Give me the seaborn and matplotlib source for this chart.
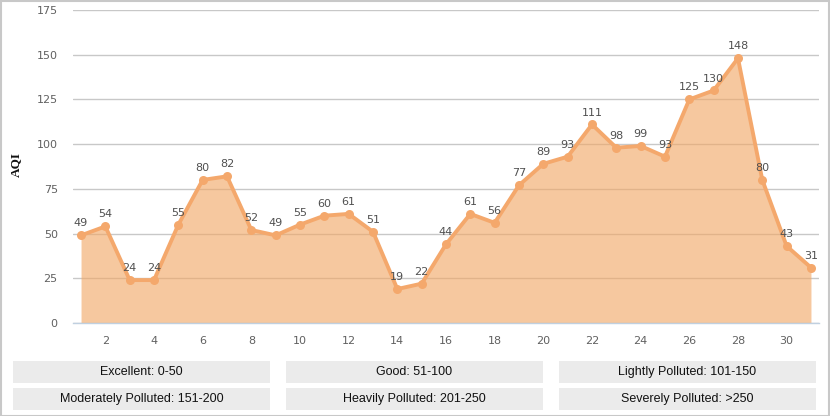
import matplotlib
matplotlib.use("Agg")
import matplotlib.pyplot as plt
import seaborn as sns
import pandas as pd
from matplotlib.patches import Rectangle

days = list(range(1, 32))
aqi = [49, 54, 24, 24, 55, 80, 82, 52, 49, 55, 60, 61, 51, 19, 22, 44,
       61, 56, 77, 89, 93, 111, 98, 99, 93, 125, 130, 148, 80, 43, 31]
yticks = [0, 25, 50, 75, 100, 125, 150, 175]
xticks = list(range(2, 32, 2))
levels = ["Excellent: 0-50", "Good: 51-100", "Lightly Polluted: 101-150",
          "Moderately Polluted: 151-200", "Heavily Polluted: 201-250",
          "Severely Polluted: >250"]

df = pd.DataFrame({"day": days, "aqi": aqi})

sns.set_style("white")
plt.rcParams["font.family"] = ["DejaVu Sans"]

fig = plt.figure(figsize=(8.3, 4.16), dpi=100)
ax = fig.add_axes([73 / 830, 1 - 323 / 416, 746 / 830, 313 / 416])

line_c = "#F4A86C"
ax.yaxis.grid(True, color="#C8C8C8", lw=1, zorder=0)
ax.set_axisbelow(True)
ax.fill_between(df["day"], df["aqi"], 0, color="#F2A765", alpha=0.62,
                lw=0, zorder=1)
sns.lineplot(data=df, x="day", y="aqi", ax=ax, color=line_c, lw=2.8,
             marker="o", markersize=6.5, markeredgewidth=0, zorder=3)

for d, v in zip(days, aqi):
    ax.annotate(str(v), (d, v), xytext=(0, 5), textcoords="offset points",
                ha="center", va="bottom", fontsize=8, color="#505050", zorder=4)

ax.set_xlim(0.67, 31.33)
ax.set_ylim(0, 175)
ax.set_yticks(yticks)
ax.set_xticks(xticks)
for s in ["top", "right", "left"]:
    ax.spines[s].set_visible(False)
ax.spines["bottom"].set_color("#C0D0E0")
ax.spines["bottom"].set_linewidth(1)
ax.spines["bottom"].set_zorder(5)
ax.tick_params(axis="y", length=0, pad=11, labelsize=8, labelcolor="#606060")
ax.tick_params(axis="x", length=5, width=1, color="#C0D0E0", pad=4,
               labelsize=8, labelcolor="#606060")
ax.set_xlabel("")
ax.set_ylabel("AQI", fontsize=9.5, color="#111111", fontweight="bold",
              family=["Liberation Serif"])
ax.yaxis.set_label_coords(-0.068, 0.505)

# level legend boxes
W, H = 830, 416
cols = [13, 286, 559]
rows = [361, 388]
bw, bh = 257, 22
for i, lab in enumerate(levels):
    x0 = cols[i % 3]
    y0 = rows[i // 3]
    fig.patches.append(Rectangle((x0 / W, 1 - (y0 + bh) / H), bw / W, bh / H,
                                 transform=fig.transFigure, color="#EBEBEB",
                                 lw=0))
    fig.text((x0 + bw / 2) / W, 1 - (y0 + bh / 2) / H, lab, ha="center",
             va="center", fontsize=9, color="#111111",
             family=["Liberation Sans"])

# outer border
fig.patches.append(Rectangle((0.5 / W, 0.5 / H), 1 - 1.5 / W, 1 - 1.5 / H,
                             transform=fig.transFigure, fill=False,
                             edgecolor="#C8C8C8", lw=1.5))

fig.savefig("out.png", dpi=100)
